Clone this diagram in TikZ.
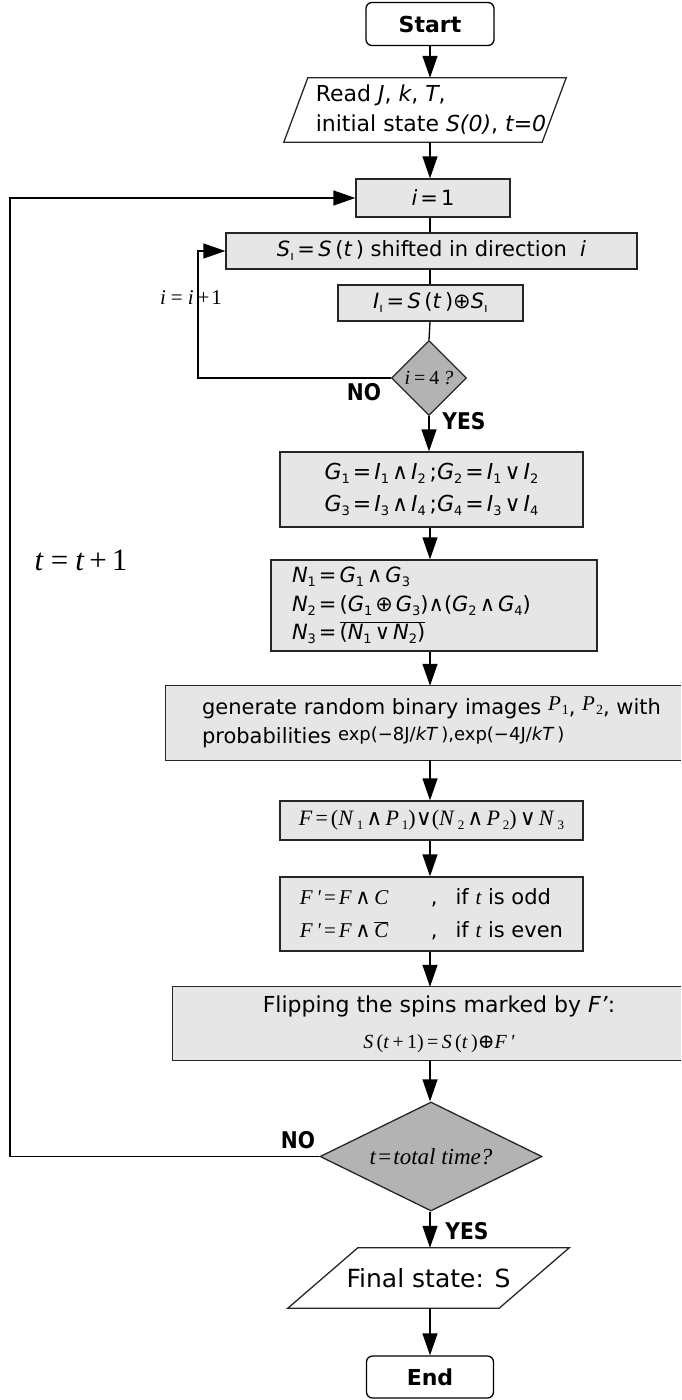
\documentclass[tikz,border=0pt]{standalone}
\usepackage{fontspec}
\setmainfont{DejaVu Sans}
\newfontfamily\cond[FakeStretch=0.88]{DejaVu Sans}
\newfontfamily\serif{Liberation Serif}
\newfontfamily\symserif{DejaVu Serif}
\usetikzlibrary{arrows.meta,shapes.geometric,calc}
\definecolor{boxgray}{HTML}{E6E6E6}
\definecolor{dgray}{HTML}{B3B3B3}
\newcommand\fsz[1]{\fontsize{#1}{#1}\selectfont}
\newcommand\sbx[1]{\raisebox{-4pt}{\fsz{13}\upshape #1}}
\newcommand\opx[1]{\hspace{3pt}#1\hspace{3pt}}
\newcommand\wedgex{{\symserif ∧}}
\newcommand\veex{{\symserif ∨}}
\newcommand\oplusx{{\symserif ⊕}}
\begin{document}
\begin{tikzpicture}[x=1pt,y=-1pt,
  conn/.style={line width=1.3pt, draw=black},
  arr/.style={conn, -{Triangle[length=22pt,width=15pt]}},
  boxline/.style={line width=1.3pt, draw=black!85},
  proc/.style={boxline, fill=boxgray, inner sep=0pt, align=center},
  term/.style={draw=black, line width=1.3pt, rounded corners=6pt, fill=white, inner sep=0pt, font=\fsz{22}\bfseries},
  dec/.style={diamond, boxline, fill=dgray, inner sep=0pt},
  yn/.style={font=\cond\fsz{23}\bfseries, inner sep=0pt}]
\useasboundingbox (0,0) rectangle (681,1400);
\coordinate (cx) at (430,0);
\coordinate (lp1) at (198,0);
\coordinate (lp2) at (10,0);

% terminals and I/O
\node[term, minimum width=128pt, minimum height=43pt] (start) at (430,24) {Start};
\node[minimum width=258pt, minimum height=64pt, inner sep=0pt] (read) at (425,110)
  {\hspace{12pt}{\fontsize{22}{30}\selectfont\begin{tabular}{@{}l@{}}Read \textit{J}, \textit{k}, \textit{T},\\initial state \textit{S(0)}, \textit{t=0}\end{tabular}}};
\draw[boxline] ($(read.south west)+(-12,0)$) -- ($(read.north west)+(12,0)$) -- ($(read.north east)+(12,0)$) -- ($(read.south east)+(-12,0)$) -- cycle;

% inner loop
\node[proc, minimum width=154pt, minimum height=38pt, font=\fsz{21}] (i1) at (433,198) {\textit{i}\hspace{3pt}=\hspace{3pt}1};
\node[proc, minimum width=411pt, minimum height=36pt, font=\fsz{21}] (si) at (431.5,251)
  {\textit{S}\sbx{ı}\,=\,\textit{S}\,(\textit{t}\,)\ shifted in direction\ \ \textit{i}};
\node[proc, minimum width=185pt, minimum height=36pt, font=\fsz{21}] (ii) at (430.5,303)
  {\textit{I}\sbx{ı}\,=\,\textit{S}\,(\textit{t}\,)⊕\textit{S}\sbx{ı}};
\node[dec, minimum width=75pt, minimum height=75pt] (d4) at (429,378)
  {\makebox[0pt]{\serif\fsz{20}\textit{i}\hspace{4pt}=\hspace{4pt}4\hspace{4pt}\textit{?}}};
\node[yn] (no1) at (364,392) {NO};
\node[yn] (yes1) at (464,421) {YES};
\node[font=\serif\fsz{21}, inner sep=0pt] (inc) at (191,298) {\textit{i}\hspace{5pt}=\hspace{5pt}\textit{i}\hspace{4pt}+\hspace{2pt}1};

% G box
\node[proc, minimum width=303pt, minimum height=75pt, font=\fontsize{22}{32}\selectfont] (g) at (431.5,489.5)
  {\textit{G}\sbx{1}\opx{=}\textit{I}\sbx{1}\opx{∧}\textit{I}\sbx{2}\,;\textit{G}\sbx{2}\opx{=}\textit{I}\sbx{1}\opx{∨}\textit{I}\sbx{2}\\
   \textit{G}\sbx{3}\opx{=}\textit{I}\sbx{3}\opx{∧}\textit{I}\sbx{4}\,;\textit{G}\sbx{4}\opx{=}\textit{I}\sbx{3}\opx{∨}\textit{I}\sbx{4}};

% N box
\node[proc, minimum width=326pt, minimum height=91pt, text width=284pt, align=left, font=\fontsize{21}{28.5}\selectfont] (n) at (434,605.5)
  {\textit{N}\sbx{1}\opx{=}\textit{G}\sbx{1}\opx{∧}\textit{G}\sbx{3}\\
   \textit{N}\sbx{2}\opx{=}(\textit{G}\sbx{1}\opx{⊕}\textit{G}\sbx{3})∧(\textit{G}\sbx{2}\opx{∧}\textit{G}\sbx{4})\\
   \textit{N}\sbx{3}\opx{=}$\overline{\hbox{(\textit{N}\sbx{1}\opx{∨}\textit{N}\sbx{2})}}$};

% random images box (runs off the right edge)
\node[fill=boxgray, inner sep=0pt, minimum width=515pt, minimum height=74pt] (rnd) at (423.5,723)
  {\hspace{16pt}{\fontsize{21}{29}\selectfont\begin{tabular}{@{}l@{}}
   generate random binary images \raisebox{4pt}{\serif\itshape P}\hspace{1pt}{\serif\fsz{14}1}, \raisebox{4pt}{\serif\itshape P}\hspace{1pt}{\serif\fsz{14}2}, with\\
   probabilities \raisebox{3pt}{\fsz{18}exp(−8J/\textit{kT}\,),exp(−4J/\textit{kT}\,)}
   \end{tabular}}};
\draw[boxline] (rnd.north east) -- (rnd.north west) -- (rnd.south west) -- (rnd.south east);

% F box
\node[proc, minimum width=303pt, minimum height=39pt, font=\serif\fsz{22}] (f) at (431.5,820.5)
  {\textit{F}\opx{=}(\textit{N}\hspace{3pt}\sbx{1}\opx{\wedgex}\textit{P}\hspace{3pt}\sbx{1})\veex(\textit{N}\hspace{3pt}\sbx{2}\opx{\wedgex}\textit{P}\hspace{3pt}\sbx{2})\opx{\veex}\textit{N}\hspace{3pt}\sbx{3}};

% F' box
\node[proc, minimum width=303pt, minimum height=74pt] (fp) at (431.5,914)
  {{\fontsize{21}{33}\selectfont\begin{tabular}{@{}l@{}}
   \makebox[131pt][l]{\serif\fsz{21}\textit{F\,'}\opx{=}\textit{F}\,\wedgex\,\textit{C}},\hspace{18pt}if {\serif\itshape t} is odd\\
   \makebox[131pt][l]{\serif\fsz{21}\textit{F\,'}\opx{=}\textit{F}\,\wedgex\,$\overline{\hbox{\serif\fsz{21}\textit{C}}}$},\hspace{18pt}if {\serif\itshape t} is even
   \end{tabular}}};

% flip box (runs off the right edge)
\node[fill=boxgray, inner sep=0pt, minimum width=508pt, minimum height=73pt] (flip) at (427,1023.5)
  {\hspace{24pt}{\fontsize{22}{36}\selectfont\begin{tabular}{@{}c@{}}
   Flipping the spins marked by \textit{F'}:\\
   {\serif\fsz{20}\textit{S}\,(\textit{t}\,+\,1)\,=\,\textit{S}\,(\textit{t}\,)\oplusx\textit{F\,'}}
   \end{tabular}}};
\draw[boxline] (flip.north east) -- (flip.north west) -- (flip.south west) -- (flip.south east);

% outer decision
\node[dec, minimum width=222pt, minimum height=109pt] (dT) at (431,1156.5)
  {\makebox[0pt]{\serif\fsz{23}\textit{t}\hspace{2pt}=\hspace{2pt}\textit{total time?}}};
\node[yn] (no2) at (298,1140) {NO};
\node[yn] (yes2) at (467,1231) {YES};
\node[font=\serif\fsz{31}, inner sep=0pt] (tinc) at (81,560) {\textit{t}\hspace{7pt}=\hspace{7pt}\textit{t}\hspace{5pt}+\hspace{5pt}1};

% final
\node[minimum width=211pt, minimum height=60pt, inner sep=0pt, font=\fsz{25}] (fin) at (428.5,1278) {Final state: S};
\draw[boxline] ($(fin.south west)+(-35,0)$) -- ($(fin.north west)+(35,0)$) -- ($(fin.north east)+(35,0)$) -- ($(fin.south east)+(-35,0)$) -- cycle;
\node[term, minimum width=127pt, minimum height=42pt] (end) at (430,1377) {End};

% connectors
\draw[arr] (cx |- start.south) -- (cx |- read.north);
\draw[arr] (cx |- read.south) -- (cx |- i1.north);
\draw[conn] (cx |- i1.south) -- (cx |- si.north);
\draw[conn] (cx |- si.south) -- (cx |- ii.north);
\draw[conn] (cx |- ii.south) -- (d4.north);
\draw[arr] (d4.south) -- (d4.south |- g.north);
\draw[arr] (cx |- g.south) -- (cx |- n.north);
\draw[arr] (cx |- n.south) -- (cx |- rnd.north);
\draw[arr] (cx |- rnd.south) -- (cx |- f.north);
\draw[arr] (cx |- f.south) -- (cx |- fp.north);
\draw[arr] (cx |- fp.south) -- (cx |- flip.north);
\draw[arr] (cx |- flip.south) -- (cx |- dT.north);
\draw[arr] (cx |- dT.south) -- (cx |- fin.north);
\draw[arr] (cx |- fin.south) -- (cx |- end.north);
\draw[arr] (d4.west) -- (d4.west -| lp1) -- (lp1 |- si.west) -- (si.west);
\draw[arr] (dT.west) -- (dT.west -| lp2) -- (lp2 |- i1.west) -- (i1.west);
\end{tikzpicture}
\end{document}
